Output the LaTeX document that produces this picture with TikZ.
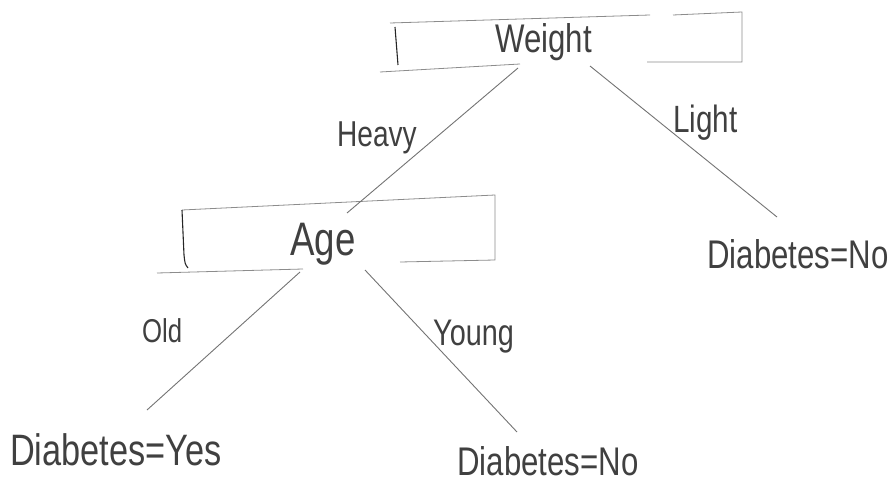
\documentclass[tikz,border=0pt]{standalone}
\usepackage{fontspec}
\setmainfont{Liberation Sans}[FakeStretch=0.78]
\usetikzlibrary{calc}
\newcommand\fsz[1]{\fontsize{#1}{#1}\selectfont}
\tikzset{
  lbl/.style={anchor=base west, inner sep=0pt, text=black!75},
  edge/.style={draw=black!55, line width=0.9pt},
  boxline/.style={draw=black!45, line width=0.8pt},
  boxdark/.style={draw=black!85, line width=1.1pt},
}
\begin{document}
\begin{tikzpicture}[x=1pt,y=-1pt]
\useasboundingbox (0,0) rectangle (896,489);
% Weight box
\draw[boxline] (390,23) -- (650,15);
\draw[boxline] (673,15) -- (742,12) -- (742,62) -- (647,62);
\draw[boxline] (380,72) -- (520,64);
\draw[boxdark] (395,27) -- (398,65);
% Age box
\draw[boxline] (182,210) -- (495,195) -- (495,260) -- (400,262);
\draw[boxline] (157,273) -- (303,269);
\draw[boxdark] (182,210) -- (184,255) .. controls (185,264) .. (188,268);
% texts
\node[lbl, font=\fsz{40}] (weight) at (495,53) {Weight};
\node[lbl, font=\fsz{36}] (heavy) at (337,147) {Heavy};
\node[lbl, font=\fsz{38}] (light) at (673,133) {Light};
\node[lbl, font=\fsz{47}] (age) at (290,255) {Age};
\node[lbl, font=\fsz{33}] (old) at (142,342) {Old};
\node[lbl, font=\fsz{37}] (young) at (433,345) {Young};
\node[lbl, font=\fsz{44}] (dyes) at (10,465) {Diabetes=Yes};
\node[lbl, font=\fsz{40}] (dno2) at (457,475) {Diabetes=No};
\node[lbl, font=\fsz{40}] (dno1) at (707,268) {Diabetes=No};
% connectors
\draw[edge] ($(weight.base west)+(23,15)$) -- ($(age.base west)+(57,-42)$);
\draw[edge] ($(weight.base west)+(95,13)$) -- ($(dno1.base west)+(70,-51)$);
\draw[edge] ($(age.base west)+(10,17)$) -- ($(dyes.base west)+(137,-55)$);
\draw[edge] ($(age.base west)+(75,15)$) -- ($(dno2.base west)+(60,-43)$);
\end{tikzpicture}
\end{document}
